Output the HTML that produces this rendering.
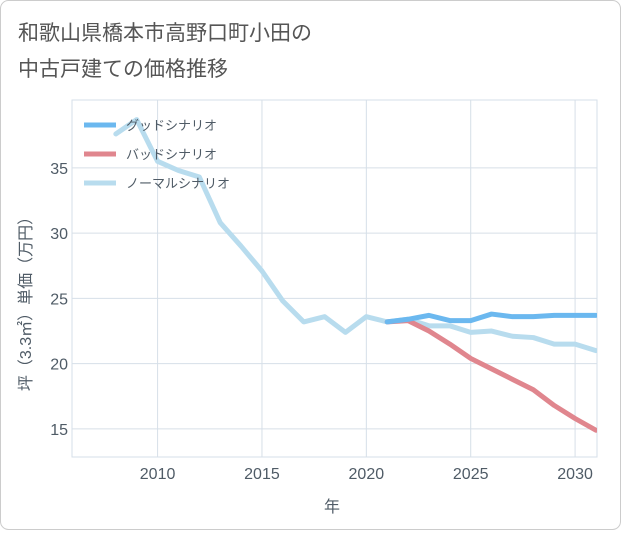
<!DOCTYPE html>
<html><head><meta charset="utf-8"><style>
body{margin:0;background:#fff}
svg text{font-family:"Liberation Sans","Noto Sans CJK JP",sans-serif}
</style></head><body>
<svg id="c" width="621" height="530" xmlns="http://www.w3.org/2000/svg">
<rect x="0.5" y="0.5" width="620" height="529" rx="8" fill="#fff" stroke="#ccc"/>
<text x="18" y="40" font-size="21" fill="#555">和歌山県橋本市高野口町小田の</text>
<text x="18" y="76" font-size="21" fill="#555">中古戸建ての価格推移</text>
<g id="grid"></g><g id="series"></g><g id="legend"></g>
<text x="332" y="512" font-size="16" fill="#4f5b66" text-anchor="middle">年</text>
<text transform="translate(31,300) rotate(-90)" font-size="16" fill="#4f5b66" text-anchor="middle">坪（3.3㎡）単価（万円）</text>
</svg>
<script>
const years=[2008,2009,2010,2011,2012,2013,2014,2015,2016,2017,2018,2019,2020,2021,2022,2023,2024,2025,2026,2027,2028,2029,2030,2031];
const normal=[37.6,38.7,35.5,34.8,34.3,30.8,29.0,27.1,24.8,23.2,23.6,22.4,23.6,23.2,23.4,22.9,22.9,22.4,22.5,22.1,22.0,21.5,21.5,21.0];
const fyears=[2021,2022,2023,2024,2025,2026,2027,2028,2029,2030,2031];
const good=[23.2,23.4,23.7,23.3,23.3,23.8,23.6,23.6,23.7,23.7,23.7];
const bad=[23.2,23.3,22.5,21.5,20.4,19.6,18.8,18.0,16.8,15.8,14.9];
const xTicks=[2010,2015,2020,2025,2030];
const yTicks=[15,20,25,30,35];
const NS="http://www.w3.org/2000/svg";
const L=72,R=597,T=100,B=457,x0=2005.9,x1=2031.05,y0=12.85,y1=40.2;
const X=v=>L+(v-x0)/(x1-x0)*(R-L), Y=v=>B-(v-y0)/(y1-y0)*(B-T);
function mk(t,a,p){const e=document.createElementNS(NS,t);for(const k in a)e.setAttribute(k,a[k]);p.appendChild(e);return e;}
const g=document.getElementById('grid'),s=document.getElementById('series'),lg=document.getElementById('legend');
const bg=mk('rect',{x:L,y:T,width:R-L,height:B-T,fill:'#fff',stroke:'#d6dfe8'},g);


xTicks.forEach(v=>{const l=mk('line',{x1:X(v),x2:X(v),y1:T,y2:B,stroke:'#d6dfe8'},g);


const t=mk('text',{x:X(v),y:B+22,'font-size':16,fill:'#4f5b66','text-anchor':'middle'},g);t.textContent=v;

});
yTicks.forEach(v=>{const l=mk('line',{x1:L,x2:R,y1:Y(v),y2:Y(v),stroke:'#d6dfe8'},g);


const t=mk('text',{x:L-4,y:Y(v)+6,'font-size':16,fill:'#4f5b66','text-anchor':'end'},g);t.textContent=v;

});
function line(xs,ys,c,n){const p=mk('path',{d:xs.map((v,i)=>(i?'L':'M')+X(v)+','+Y(ys[i])).join(''),fill:'none',stroke:c,'stroke-width':5,'stroke-linejoin':'round','stroke-linecap':'round'},s);

}
const cl=mk('clipPath',{id:'cp'},s);mk('rect',{x:L,y:T,width:R-L,height:B-T},cl);s.setAttribute('clip-path','url(#cp)');
line(years,normal,'#b8dcee','normal-scenario-line');
line(fyears,bad,'#e0868e','bad-scenario-line');
line(fyears,good,'#6bb8ef','good-scenario-line');
[['グッドシナリオ','#6bb8ef',125],['バッドシナリオ','#e0868e',154],['ノーマルシナリオ','#b8dcee',183]].forEach(([n,c,y])=>{
const l=mk('line',{x1:84,x2:116,y1:y,y2:y,stroke:c,'stroke-width':5},lg);


const t=mk('text',{x:126,y:y+5,'font-size':13,fill:'#4f5b66'},lg);t.textContent=n;

});
</script>
</body></html>
